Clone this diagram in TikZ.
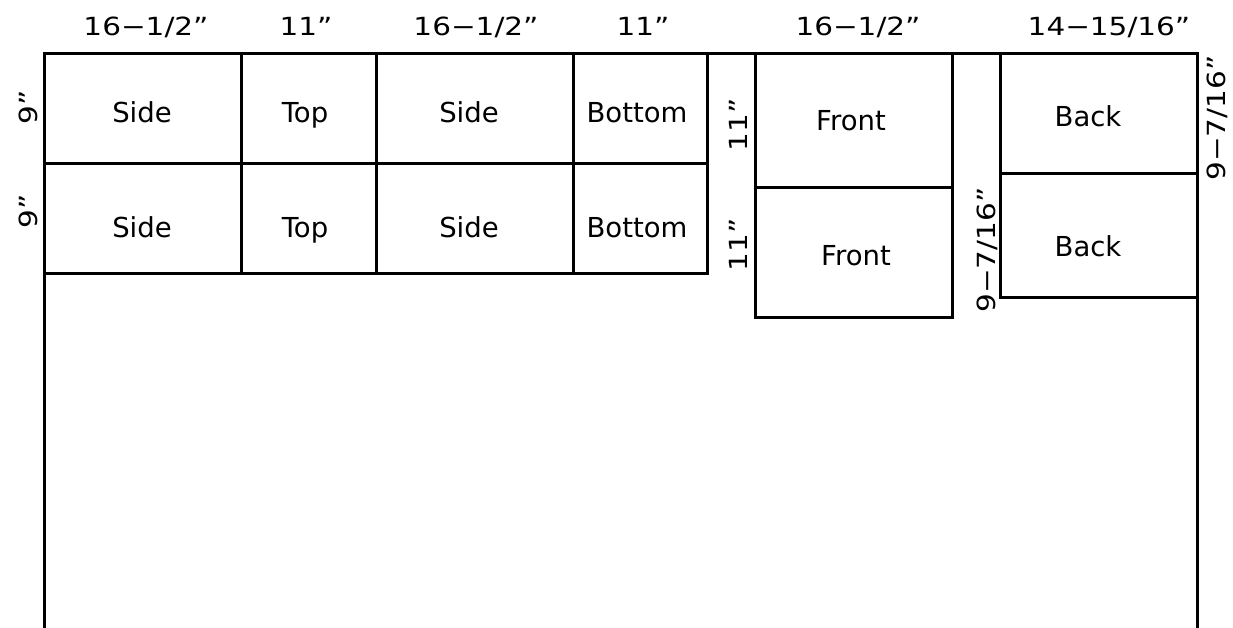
\documentclass[tikz,border=0pt]{standalone}
\usepackage{fontspec}
\setmainfont{DejaVu Sans}
\newfontfamily\dimfont[FakeStretch=1.18]{DejaVu Sans}
\begin{document}
\begin{tikzpicture}[x=1pt,y=-1pt,
  cut/.style={line width=3.0pt,line cap=rect},
  part/.style={font=\fontsize{27.5}{32}\selectfont,anchor=base,inner sep=0pt},
  dim/.style={font=\dimfont\fontsize{25}{30}\selectfont,anchor=base,inner sep=0pt},
  vdim/.style={dim,rotate=90}]
\useasboundingbox (0,0) rectangle (1233,627);
% outer sheet
\draw[cut] (44,627) -- (44,53) -- (1197,53) -- (1197,627);
% left block
\draw[cut] (44,163) -- (707,163);
\draw[cut] (44,273) -- (707,273) -- (707,53);
\draw[cut] (241,53) -- (241,273);
\draw[cut] (376,53) -- (376,273);
\draw[cut] (573,53) -- (573,273);
% front block
\draw[cut] (755,53) -- (755,317) -- (952,317) -- (952,53);
\draw[cut] (755,187) -- (952,187);
% back block
\draw[cut] (1000,53) -- (1000,297) -- (1197,297);
\draw[cut] (1000,173) -- (1197,173);
% part labels
\node[part] (s1) at (142,122) {Side};
\node[part] (t1) at (305,122) {Top};
\node[part] (s2) at (469,122) {Side};
\node[part] (b1) at (637,122) {Bottom};
\node[part] (s3) at (142,237) {Side};
\node[part] (t2) at (305,237) {Top};
\node[part] (s4) at (469,237) {Side};
\node[part] (b2) at (637,237) {Bottom};
\node[part] (f1) at (851,130) {Front};
\node[part] (f2) at (856,265) {Front};
\node[part] (k1) at (1088,126) {Back};
\node[part] (k2) at (1088,256) {Back};
% dimensions
\node[dim] (d1) at (146,35) {16−1/2”};
\node[dim] (d2) at (306,35) {11”};
\node[dim] (d3) at (476,35) {16−1/2”};
\node[dim] (d4) at (643,35) {11”};
\node[dim] (d5) at (858,35) {16−1/2”};
\node[dim] (d6) at (1109,35) {14−15/16”};
\node[vdim] (v1) at (37,107) {9”};
\node[vdim] (v2) at (37,211) {9”};
\node[vdim] (v3) at (747,125) {11”};
\node[vdim] (v4) at (747,245) {11”};
\node[vdim] (v5) at (995,250) {9−7/16”};
\node[vdim] (v6) at (1225,118) {9−7/16”};
\end{tikzpicture}
\end{document}
